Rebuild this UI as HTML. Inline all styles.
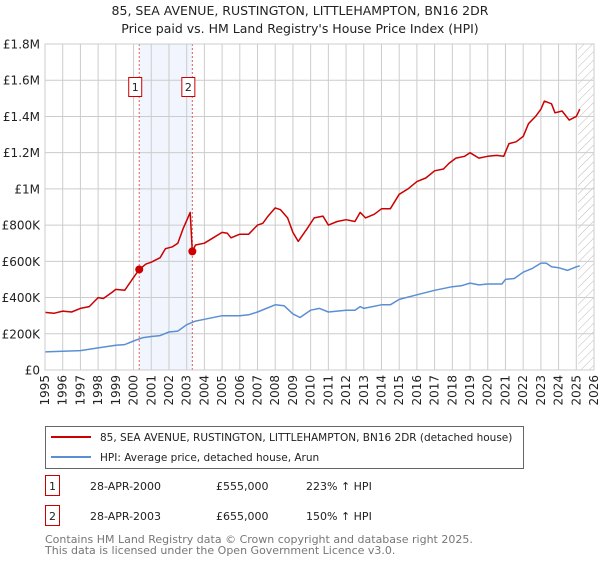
<!DOCTYPE html>
<html><head><meta charset="utf-8"><style>
body{margin:0;background:#fff;font-family:"Liberation Sans","DejaVu Sans",sans-serif;}
svg text{font-family:"DejaVu Sans","Liberation Sans",sans-serif;}
</style></head><body>
<svg id="c" width="600" height="560" xmlns="http://www.w3.org/2000/svg">
<defs><pattern id="hatch" patternUnits="userSpaceOnUse" width="6" height="6" patternTransform="rotate(45)"><line x1="0" y1="0" x2="0" y2="6" stroke="#bbb" stroke-width="1"/></pattern></defs>
<text x="300" y="15" text-anchor="middle" font-size="12.5" fill="#222">85, SEA AVENUE, RUSTINGTON, LITTLEHAMPTON, BN16 2DR</text>
<text x="300" y="33" text-anchor="middle" font-size="12.5" fill="#222">Price paid vs. HM Land Registry's House Price Index (HPI)</text>
<g id="plot"></g>
<g>
<rect x="45.5" y="426.5" width="478" height="42" fill="#fff" stroke="#666"/>
<line x1="51" y1="437" x2="91" y2="437" stroke="#cc0000" stroke-width="2"/>
<text x="100" y="441" font-size="10.5" fill="#222">85, SEA AVENUE, RUSTINGTON, LITTLEHAMPTON, BN16 2DR (detached house)</text>
<line x1="51" y1="457" x2="91" y2="457" stroke="#5b8fd4" stroke-width="2"/>
<text x="100" y="461" font-size="10.5" fill="#222">HPI: Average price, detached house, Arun</text>
</g>
<g font-size="11" fill="#222">
<rect x="45.5" y="475.5" width="14" height="20" fill="#fff" stroke="#cc0000"/>
<text x="52.5" y="490" text-anchor="middle">1</text>
<text x="90" y="490">28-APR-2000</text><text x="216" y="490">£555,000</text><text x="306" y="490">223% ↑ HPI</text>
<rect x="45.5" y="505.5" width="14" height="20" fill="#fff" stroke="#cc0000"/>
<text x="52.5" y="520" text-anchor="middle">2</text>
<text x="90" y="520">28-APR-2003</text><text x="216" y="520">£655,000</text><text x="306" y="520">150% ↑ HPI</text>
</g>
<text x="45" y="543" font-size="11" fill="#777">Contains HM Land Registry data © Crown copyright and database right 2025.</text>
<text x="45" y="554" font-size="11" fill="#777">This data is licensed under the Open Government Licence v3.0.</text>
</svg>
<script>
const redYears=[1995,1995.5,1996,1996.5,1997,1997.5,1998,1998.3,1998.8,1999,1999.5,2000,2000.32,2000.7,2001,2001.5,2001.8,2002.2,2002.5,2002.8,2003.2,2003.32,2003.5,2004,2004.5,2005,2005.3,2005.5,2006,2006.5,2007,2007.3,2007.6,2008,2008.3,2008.7,2009,2009.3,2009.8,2010.2,2010.7,2011,2011.5,2012,2012.5,2012.8,2013.1,2013.6,2014,2014.5,2015,2015.5,2016,2016.5,2017,2017.5,2017.8,2018.2,2018.7,2019,2019.5,2020,2020.5,2020.9,2021.2,2021.6,2022,2022.3,2022.7,2023,2023.2,2023.6,2023.8,2024.2,2024.6,2025,2025.2];
const redValues=[318,313,325,320,340,350,400,395,430,445,440,510,555,585,595,620,670,680,700,780,870,655,690,700,730,760,755,730,750,750,800,810,850,895,885,840,760,710,780,840,850,800,820,830,820,870,840,860,890,890,970,1000,1040,1060,1100,1110,1140,1170,1180,1200,1170,1180,1185,1180,1250,1260,1290,1360,1400,1440,1485,1470,1420,1430,1380,1400,1440];
const hpiYears=[1995,1996,1997,1998,1999,1999.5,2000,2000.5,2001,2001.5,2002,2002.5,2003,2003.5,2004,2005,2006,2006.5,2007,2008,2008.5,2009,2009.4,2010,2010.5,2011,2012,2012.5,2012.8,2013,2014,2014.5,2015,2016,2017,2018,2018.5,2019,2019.5,2020,2020.8,2021,2021.5,2022,2022.5,2023,2023.3,2023.6,2024,2024.5,2025,2025.2];
const hpiValues=[100,103,107,122,137,140,160,178,185,190,210,215,250,270,280,300,300,305,320,360,355,310,290,330,340,320,330,330,350,340,360,360,390,415,440,460,465,480,470,475,475,500,505,540,560,590,590,570,565,550,570,575];
const saleYears=[2000.32,2003.32];
const saleValues=[555,655];
const yTicks=[0,200,400,600,800,1000,1200,1400,1600,1800];
const yLabels=["£0","£200K","£400K","£600K","£800K","£1M","£1.2M","£1.4M","£1.6M","£1.8M"];
const xTicks=[1995,1996,1997,1998,1999,2000,2001,2002,2003,2004,2005,2006,2007,2008,2009,2010,2011,2012,2013,2014,2015,2016,2017,2018,2019,2020,2021,2022,2023,2024,2025,2026];
const X0=45,X1=594,Y0=370,Y1=44;
const xs=y=>X0+(y-1995)/(2026-1995)*(X1-X0);
const ys=v=>Y0-v/1800*(Y0-Y1);
const NS="http://www.w3.org/2000/svg";
const g=document.getElementById('plot');
function mk(t,a,p){const e=document.createElementNS(NS,t);for(const k in a)e.setAttribute(k,a[k]);(p||g).appendChild(e);return e;}
mk('rect',{x:X0,y:Y1,width:X1-X0,height:Y0-Y1,fill:'#fff'});
const sh=mk('rect',{x:xs(saleYears[0]),y:Y1,width:xs(saleYears[1])-xs(saleYears[0]),height:Y0-Y1,fill:'#eef3fc',opacity:0.8});


const hx=xs(2025.1);
const hr=mk('rect',{x:hx,y:Y1,width:X1-hx,height:Y0-Y1,fill:'url(#hatch)'});


yTicks.forEach((v,i)=>{
 const l=mk('line',{x1:X0,x2:X1,y1:ys(v),y2:ys(v),stroke:'#ccc','stroke-width':1});
 
 
 const t=mk('text',{x:X0-5,y:ys(v)+4.5,'text-anchor':'end','font-size':12,fill:'#222'});
 t.textContent=yLabels[i];
 
 
});
xTicks.forEach(yr=>{
 const x=xs(yr);
 const l=mk('line',{x1:x,x2:x,y1:Y1,y2:Y0,stroke:'#ccc','stroke-width':1});
 
 
 const t=mk('text',{x:0,y:0,'text-anchor':'end','font-size':12,fill:'#222',transform:`translate(${x+4},${Y0+5}) rotate(-90)`});
 t.textContent=yr;
 
 
});
saleYears.forEach((yr,i)=>{
 const x=xs(yr);
 const l=mk('line',{x1:x,x2:x,y1:Y1,y2:Y0,stroke:'#e06060','stroke-width':1,'stroke-dasharray':'2,2'});
 
 
 const b=mk('rect',{x:x-10.5,y:77.5,width:13,height:19,fill:'#fff',stroke:'#cc0000'});
 
 
 const t=mk('text',{x:x-4,y:91,'text-anchor':'middle','font-size':11,fill:'#222'});
 t.textContent=String(i+1);
 
 
});
function line(xa,va,col,name){
 const p=mk('path',{d:xa.map((y,i)=>(i?'L':'M')+xs(y).toFixed(1)+','+ys(va[i]).toFixed(1)).join(''),fill:'none',stroke:col,'stroke-width':1.5,'stroke-linejoin':'round'});
 
 
}
line(hpiYears,hpiValues,'#5b8fd4','hpi-line');
line(redYears,redValues,'#cc0000','price-paid-line');
saleYears.forEach((yr,i)=>{
 const c=mk('circle',{cx:xs(yr),cy:ys(saleValues[i]),r:4,fill:'#cc0000'});
 
 
});
mk('rect',{x:X0,y:Y1,width:X1-X0,height:Y0-Y1,fill:'none',stroke:'#ccc'});
</script>
</body></html>
